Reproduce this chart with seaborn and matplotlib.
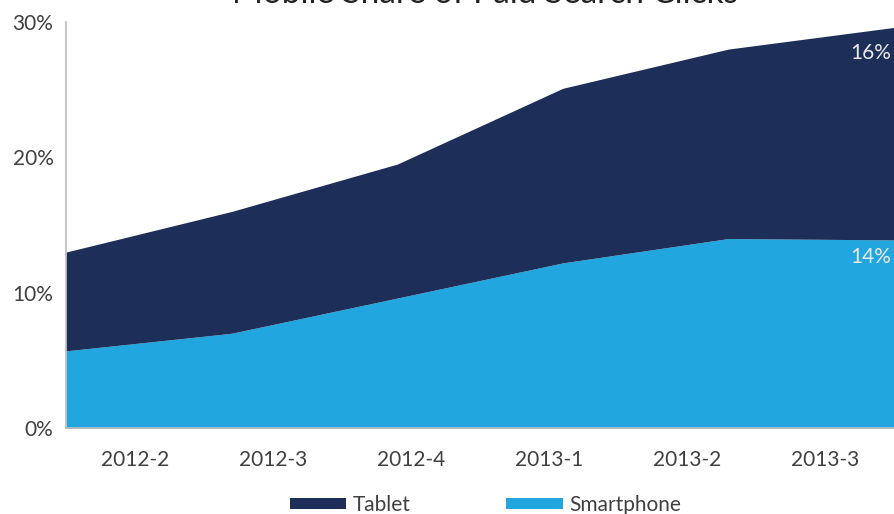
import matplotlib
matplotlib.use("Agg")
import matplotlib.pyplot as plt
from matplotlib.patches import Patch
import seaborn as sns
import numpy as np

# Quarterly share of paid search clicks (percent)
quarters = ["2012-2", "2012-3", "2012-4", "2013-1", "2013-2", "2013-3"]
smartphone = [5.7, 7.0, 9.6, 12.2, 14.0, 13.9]
tablet = [7.3, 9.0, 9.9, 12.9, 14.0, 15.7]
y_ticks = [0, 10, 20, 30]

navy = "#1D2F58"
cyan = "#22A6DF"
text_grey = "#404040"

sns.set_theme(style="white")
plt.rcParams["font.family"] = ["Lato", "DejaVu Sans"]

fig = plt.figure(figsize=(8.94, 5.14), dpi=100)
ax = fig.add_axes([66 / 894, 86 / 514, 1 - 66 / 894, (492 - 86) / 514])

x = np.arange(len(quarters))
phone = np.array(smartphone)
total = phone + np.array(tablet)

ax.fill_between(x, 0, phone, color=cyan, linewidth=0)
ax.fill_between(x, phone, total, color=navy, linewidth=0)

ax.set_xlim(0, len(quarters) - 1)
ax.set_ylim(0, 30)
ax.set_yticks(y_ticks)
ax.set_yticklabels([f"{v}%" for v in y_ticks], fontsize=15, color=text_grey)

# category labels sit in the middle of each of the six bands
span = len(quarters) - 1
ax.set_xticks([(i + 0.5) * span / len(quarters) for i in range(len(quarters))])
ax.set_xticklabels(quarters, fontsize=15, color=text_grey)
ax.tick_params(axis="both", length=0)
ax.tick_params(axis="x", pad=16)
ax.tick_params(axis="y", pad=9)

for side in ("top", "right"):
    ax.spines[side].set_visible(False)
for side in ("left", "bottom"):
    ax.spines[side].set_color("#BBBBBB")
    ax.spines[side].set_linewidth(1.2)

# end-of-series value labels
last = len(quarters) - 1
ax.text(last - 0.02, total[-1] - 1.9, f"{round(tablet[-1])}%", ha="right",
        va="center", color="#E8E8E8", fontsize=15)
ax.text(last - 0.02, phone[-1] - 1.3, f"{round(smartphone[-1])}%", ha="right",
        va="center", color="#E8E8E8", fontsize=15)

fig.text(0.542, 0.995, "Mobile Share of Paid Search Clicks", ha="center",
         va="baseline", fontsize=24, color="#222222")

handles = [Patch(facecolor=navy, edgecolor="none", label="Tablet"),
           Patch(facecolor=cyan, edgecolor="none", label="Smartphone")]
fig.legend(handles=handles, loc="center", bbox_to_anchor=(0.543, 0.018), ncol=2,
           frameon=False, handlelength=2.7, handleheight=0.4,
           handletextpad=0.3, columnspacing=4.6,
           prop={"size": 15}, labelcolor=text_grey)

fig.savefig("out.png", dpi=100)
